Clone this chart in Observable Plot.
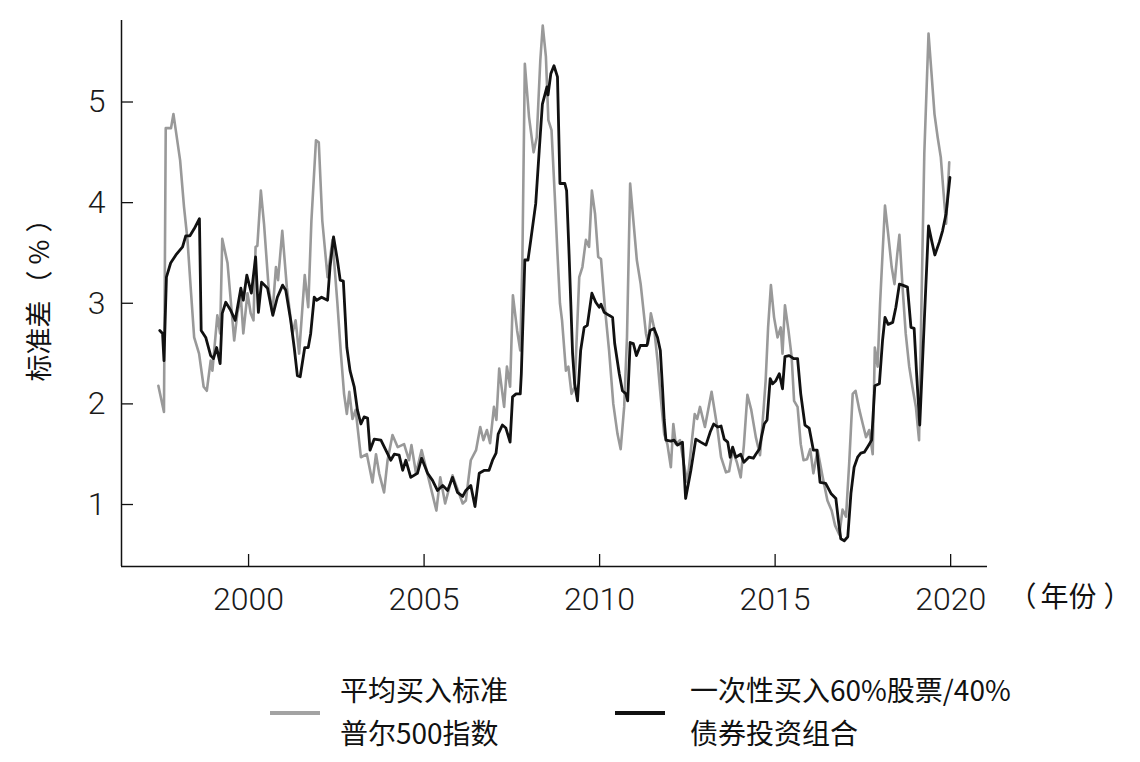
<!DOCTYPE html>
<html>
<head>
<meta charset="utf-8">
<script src="https://cdn.jsdelivr.net/npm/d3@7"></script>
<script src="https://cdn.jsdelivr.net/npm/@observablehq/plot@0.6"></script>
<style>
  html, body { margin: 0; padding: 0; background: #fff; }
  #wrap { position: relative; width: 1140px; height: 762px; }
  .sw { position: absolute; height: 4px; width: 50px; }
  .lt { position: absolute; font-family: "Noto Sans CJK SC", sans-serif; font-size: 28px; line-height: 43px; color: #111; white-space: nowrap; }
</style>
</head>
<body>
<div id="wrap"></div>
<script>
// ---- data ----
const seriesNames = ["平均买入标准普尔500指数", "一次性买入60%股票/40%债券投资组合"];

const dcaYears = [1997.43,1997.59,1997.64,1997.79,1997.86,1998.05,1998.16,1998.26,1998.35,1998.45,1998.59,1998.72,1998.81,1998.92,1998.97,1999.11,1999.19,1999.25,1999.40,1999.59,1999.68,1999.78,1999.85,1999.97,2000.06,2000.14,2000.20,2000.25,2000.35,2000.44,2000.57,2000.68,2000.78,2000.84,2000.96,2001.09,2001.25,2001.34,2001.44,2001.60,2001.70,2001.79,2001.92,2002.00,2002.10,2002.25,2002.39,2002.53,2002.63,2002.72,2002.80,2002.87,2002.96,2003.05,2003.20,2003.37,2003.53,2003.63,2003.72,2003.86,2003.96,2004.10,2004.25,2004.43,2004.57,2004.64,2004.77,2004.93,2005.19,2005.35,2005.46,2005.60,2005.81,2006.10,2006.19,2006.33,2006.48,2006.60,2006.69,2006.79,2006.88,2006.99,2007.06,2007.14,2007.28,2007.36,2007.45,2007.53,2007.65,2007.74,2007.80,2007.87,2007.99,2008.12,2008.21,2008.31,2008.38,2008.47,2008.54,2008.63,2008.72,2008.80,2008.87,2008.93,2009.04,2009.11,2009.20,2009.29,2009.42,2009.51,2009.61,2009.70,2009.78,2009.87,2009.96,2010.04,2010.15,2010.27,2010.39,2010.51,2010.60,2010.70,2010.78,2010.87,2010.96,2011.06,2011.17,2011.32,2011.38,2011.46,2011.55,2011.65,2011.74,2011.84,2011.93,2012.03,2012.10,2012.17,2012.29,2012.40,2012.50,2012.60,2012.71,2012.78,2012.86,2013.00,2013.19,2013.35,2013.46,2013.60,2013.69,2013.79,2013.91,2014.02,2014.11,2014.21,2014.32,2014.45,2014.57,2014.67,2014.73,2014.80,2014.88,2014.97,2015.07,2015.16,2015.21,2015.28,2015.38,2015.47,2015.54,2015.64,2015.73,2015.81,2015.91,2016.00,2016.09,2016.21,2016.35,2016.49,2016.61,2016.71,2016.83,2016.92,2017.02,2017.11,2017.21,2017.29,2017.40,2017.49,2017.59,2017.68,2017.78,2017.84,2017.92,2017.99,2018.06,2018.13,2018.22,2018.32,2018.40,2018.48,2018.54,2018.63,2018.72,2018.82,2018.91,2019.01,2019.10,2019.16,2019.25,2019.37,2019.45,2019.54,2019.63,2019.72,2019.80,2019.87,2019.91,2019.96];
const dcaValues = [2.18,1.92,4.74,4.74,4.88,4.42,3.96,3.63,3.16,2.66,2.50,2.17,2.13,2.43,2.33,2.88,2.70,3.64,3.40,2.63,2.90,3.06,2.70,3.10,2.90,2.83,3.56,3.57,4.12,3.79,3.16,2.90,3.36,3.23,3.72,3.16,2.70,2.83,2.50,3.28,2.96,3.82,4.62,4.60,3.82,3.26,3.63,3.00,2.50,2.10,1.90,2.12,1.85,1.94,1.47,1.50,1.22,1.50,1.31,1.12,1.44,1.69,1.57,1.60,1.44,1.59,1.31,1.54,1.17,0.94,1.27,1.01,1.29,1.01,1.04,1.44,1.54,1.77,1.64,1.74,1.61,1.97,1.84,2.35,1.97,2.37,2.17,3.08,2.73,2.53,3.43,5.38,4.85,4.50,4.65,5.41,5.76,5.45,4.82,4.72,4.09,3.49,3.00,2.83,2.33,2.37,2.10,2.17,3.26,3.36,3.63,3.56,4.12,3.89,3.46,3.44,2.96,2.53,2.00,1.70,1.55,1.97,2.66,4.19,3.83,3.43,3.19,2.70,2.60,2.90,2.76,2.43,2.07,1.70,1.60,1.37,1.80,1.60,1.64,1.40,1.22,1.54,1.90,1.85,1.97,1.77,2.12,1.77,1.47,1.32,1.33,1.54,1.42,1.27,1.59,2.09,1.94,1.67,1.49,1.94,2.23,2.76,3.18,2.86,2.66,2.76,2.50,2.98,2.73,2.47,2.03,1.97,1.60,1.44,1.45,1.55,1.31,1.54,1.28,1.04,0.94,0.79,0.70,0.95,0.88,1.41,2.10,2.13,1.94,1.81,1.67,1.74,1.50,2.56,2.37,3.00,3.49,3.97,3.69,3.36,3.19,3.49,3.68,3.16,2.70,2.37,2.17,1.97,1.64,2.83,4.49,5.68,5.31,4.88,4.65,4.45,4.09,3.79,4.05,4.40];

const lumpYears = [1997.47,1997.55,1997.59,1997.66,1997.78,1997.93,1998.12,1998.21,1998.33,1998.45,1998.60,1998.65,1998.78,1998.92,1999.00,1999.09,1999.19,1999.25,1999.35,1999.49,1999.62,1999.78,1999.85,1999.95,2000.08,2000.20,2000.28,2000.37,2000.54,2000.69,2000.82,2000.97,2001.06,2001.20,2001.30,2001.39,2001.47,2001.60,2001.70,2001.77,2001.87,2001.94,2002.08,2002.25,2002.32,2002.42,2002.53,2002.61,2002.70,2002.80,2002.89,2003.01,2003.10,2003.20,2003.29,2003.39,2003.46,2003.58,2003.77,2003.91,2004.05,2004.15,2004.29,2004.39,2004.48,2004.62,2004.81,2004.93,2005.10,2005.24,2005.38,2005.53,2005.67,2005.81,2005.95,2006.10,2006.19,2006.33,2006.45,2006.57,2006.72,2006.85,2006.95,2007.05,2007.11,2007.23,2007.33,2007.45,2007.52,2007.62,2007.74,2007.77,2007.87,2007.96,2008.04,2008.18,2008.28,2008.37,2008.50,2008.53,2008.61,2008.70,2008.80,2008.87,2009.01,2009.06,2009.13,2009.23,2009.29,2009.37,2009.46,2009.56,2009.65,2009.78,2009.89,2009.99,2010.04,2010.13,2010.27,2010.37,2010.43,2010.56,2010.65,2010.75,2010.80,2010.87,2010.96,2011.05,2011.16,2011.35,2011.44,2011.55,2011.65,2011.73,2011.79,2011.84,2011.89,2012.03,2012.12,2012.22,2012.36,2012.45,2012.60,2012.74,2012.88,2013.03,2013.15,2013.25,2013.37,2013.46,2013.55,2013.65,2013.72,2013.79,2013.88,2014.02,2014.11,2014.25,2014.38,2014.45,2014.55,2014.61,2014.69,2014.77,2014.86,2014.93,2015.02,2015.12,2015.21,2015.28,2015.40,2015.53,2015.64,2015.73,2015.85,2015.97,2016.09,2016.19,2016.28,2016.44,2016.59,2016.73,2016.80,2016.87,2016.97,2017.07,2017.16,2017.25,2017.35,2017.44,2017.54,2017.63,2017.75,2017.84,2017.97,2018.06,2018.13,2018.22,2018.35,2018.44,2018.54,2018.63,2018.77,2018.87,2018.96,2019.03,2019.12,2019.25,2019.37,2019.46,2019.55,2019.68,2019.77,2019.87,2019.91,2019.98];
const lumpValues = [2.73,2.70,2.43,3.26,3.40,3.48,3.56,3.67,3.67,3.74,3.84,2.73,2.66,2.48,2.45,2.56,2.40,2.90,3.01,2.93,2.83,3.15,3.03,3.28,3.10,3.46,2.91,3.21,3.15,2.88,3.06,3.18,3.13,2.83,2.56,2.28,2.27,2.56,2.56,2.70,3.06,3.03,3.06,3.03,3.36,3.66,3.43,3.23,3.22,2.56,2.33,2.17,1.94,1.80,1.87,1.86,1.54,1.65,1.64,1.54,1.44,1.50,1.49,1.34,1.44,1.27,1.31,1.46,1.31,1.24,1.14,1.19,1.14,1.27,1.12,1.08,1.14,1.19,0.98,1.31,1.34,1.34,1.44,1.51,1.70,1.79,1.76,1.62,2.07,2.10,2.10,2.30,3.43,3.43,3.63,3.99,4.52,4.98,5.15,5.07,5.28,5.36,5.25,4.19,4.19,4.12,3.49,2.50,2.20,2.03,2.53,2.76,2.78,3.10,3.01,2.96,2.99,2.91,2.88,2.86,2.60,2.30,2.13,2.10,2.03,2.61,2.60,2.48,2.58,2.58,2.73,2.75,2.66,2.53,2.17,1.84,1.64,1.63,1.64,1.59,1.62,1.06,1.34,1.65,1.62,1.59,1.72,1.80,1.77,1.78,1.65,1.62,1.47,1.57,1.47,1.50,1.42,1.47,1.46,1.50,1.55,1.67,1.80,1.84,2.25,2.20,2.23,2.30,2.15,2.47,2.48,2.45,2.45,2.10,1.79,1.76,1.54,1.54,1.22,1.21,1.11,1.06,0.85,0.66,0.64,0.68,1.11,1.37,1.47,1.51,1.52,1.57,1.64,2.18,2.20,2.63,2.86,2.79,2.81,2.96,3.19,3.18,3.16,2.76,2.75,2.30,1.79,2.83,3.77,3.62,3.48,3.61,3.72,3.89,4.02,4.25];

const xTicks = [2000, 2005, 2010, 2015, 2020];
const yTicks = [1, 2, 3, 4, 5];
const xDomain = [1996.38, 2021.05];
const yDomain = [0.384, 5.81];
const yLabel = "标准差（%）";
const xLabel = "（年份）";
const legendLines = [["平均买入标准", "普尔500指数"], ["一次性买入60%股票/40%", "债券投资组合"]];

// ---- tables built from the arrays ----
const dca = dcaYears.map((x, i) => ({x, y: dcaValues[i]}));
const lump = lumpYears.map((x, i) => ({x, y: lumpValues[i]}));

const numFont = "Roboto, 'Noto Sans CJK SC', sans-serif";
const cjkFont = "'Noto Sans CJK SC', sans-serif";

const chart = Plot.plot({
  width: 1140,
  height: 650,
  marginLeft: 121,
  marginRight: 153,
  marginTop: 20,
  marginBottom: 84,
  style: {fontFamily: numFont, background: "#fff", color: "#1a1a1a", overflow: "visible"},
  x: {domain: xDomain},
  y: {domain: yDomain},
  marks: [
    Plot.axisX({ticks: xTicks, tickFormat: d3.format("d"), tickSize: -12, tickPadding: 33, fontSize: 32, fontWeight: 300, label: null, stroke: "#111", strokeWidth: 1.3}),
    Plot.axisY({ticks: yTicks, tickFormat: d3.format("d"), tickSize: -12, tickPadding: 28, fontSize: 32, fontWeight: 300, label: null, stroke: "#111", strokeWidth: 1.3}),
    Plot.ruleY([yDomain[0]], {stroke: "#111", strokeWidth: 1.5}),
    Plot.ruleX([xDomain[0]], {stroke: "#111", strokeWidth: 1.5}),
    Plot.line(dca, {x: "x", y: "y", stroke: "#999999", strokeWidth: 2.6}),
    Plot.line(lump, {x: "x", y: "y", stroke: "#111111", strokeWidth: 2.8}),
    Plot.text([yLabel], {text: d => d, frameAnchor: "left", dx: -81, rotate: -90, textAnchor: "middle", fontSize: 27, fontFamily: cjkFont, fill: "#111"}),
    Plot.text([xLabel], {text: d => d, frameAnchor: "bottom-right", dx: 21, dy: 32, textAnchor: "start", lineAnchor: "middle", fontSize: 28, fontFamily: cjkFont, fill: "#111"})
  ]
});

const wrap = document.getElementById("wrap");
wrap.appendChild(chart);

// widen the spacing around the full-width brackets as in the reference (text content unchanged)
function spread(label, parts) {
  d3.select(chart).selectAll("text").filter(function() { return this.textContent === label; })
    .each(function() {
      const t = d3.select(this);
      t.text(null);
      parts.forEach(([s, dx]) => t.append("tspan").attr("dx", dx).text(s));
    });
}
spread(yLabel, [["标准差", 0], ["（", 3], ["%", 6], ["）", 7]]);
spread(xLabel, [["（", 0], ["年份", 4], ["）", 7]]);

// ---- legend (HTML below the SVG) ----
const legendColors = ["#a3a3a3", "#111111"];
const swX = [270, 615];
const txtX = [340, 690];
legendLines.forEach((lines, i) => {
  const sw = document.createElement("div");
  sw.className = "sw";
  sw.style.left = swX[i] + "px";
  sw.style.top = "711px";
  sw.style.background = legendColors[i];
  wrap.appendChild(sw);
  const t = document.createElement("div");
  t.className = "lt";
  t.style.left = txtX[i] + "px";
  t.style.top = "668px";
  t.innerHTML = lines.join("<br>");
  wrap.appendChild(t);
});
</script>
</body>
</html>
